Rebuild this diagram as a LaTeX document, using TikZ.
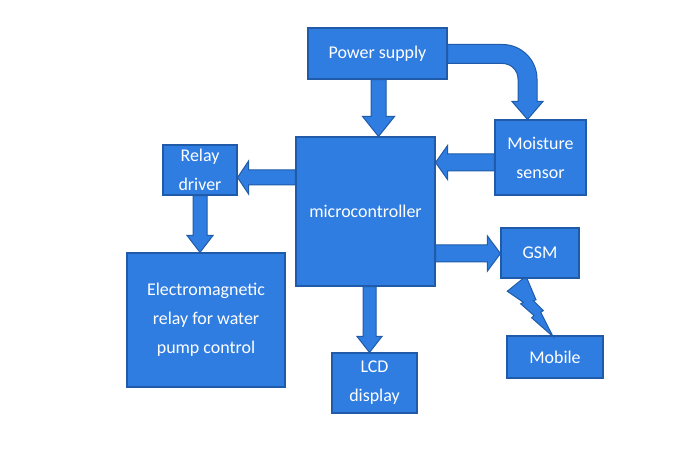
\documentclass[tikz,border=0pt]{standalone}
\usepackage{fontspec}
\setmainfont{Carlito}
\usetikzlibrary{calc}
\definecolor{boxfill}{HTML}{2F7DE1}
\definecolor{boxline}{HTML}{1F5BA8}
\tikzset{
  blk/.style={draw=boxline, fill=boxfill, line width=1.1bp, inner sep=0pt,
    text=white, align=center, font=\fontsize{18}{29}\selectfont},
  fat/.style={draw=boxline, fill=boxfill, line width=1bp, line join=miter}
}
% down arrow: #1 start, #2 end, #3 shaft half, #4 head half, #5 head length
\newcommand\fatdown[5]{\filldraw[fat] ($#1+(-#3,0)$) -- ($#1+(#3,0)$) -- ($#2+(#3,-#5)$) -- ($#2+(#4,-#5)$) -- #2 -- ($#2+(-#4,-#5)$) -- ($#2+(-#3,-#5)$) -- cycle;}
% left arrow (end left of start)
\newcommand\fatleft[5]{\filldraw[fat] ($#1+(0,-#3)$) -- ($#1+(0,#3)$) -- ($#2+(#5,#3)$) -- ($#2+(#5,#4)$) -- #2 -- ($#2+(#5,-#4)$) -- ($#2+(#5,-#3)$) -- cycle;}
% right arrow
\newcommand\fatright[5]{\filldraw[fat] ($#1+(0,-#3)$) -- ($#1+(0,#3)$) -- ($#2+(-#5,#3)$) -- ($#2+(-#5,#4)$) -- #2 -- ($#2+(-#5,-#4)$) -- ($#2+(-#5,-#3)$) -- cycle;}
\begin{document}
\begin{tikzpicture}[x=1bp,y=-1bp]
\useasboundingbox[fill=white] (0,0) rectangle (700,471);
% nodes
\node[blk, minimum width=139bp, minimum height=51bp] (ps) at (377.5,53.5) {Power supply};
\node[blk, minimum width=91bp, minimum height=75bp] (ms) at (540.5,157.5) {Moisture\\sensor};
\node[blk, minimum width=139bp, minimum height=149bp] (mc) at (365.5,211.5) {microcontroller};
\node[blk, minimum width=74bp, minimum height=50bp] (rd) at (200,170) {Relay\\driver};
\node[blk, minimum width=158bp, minimum height=134bp] (em) at (206,320) {Electromagnetic\\relay for water\\pump control};
\node[blk, minimum width=85bp, minimum height=60bp] (lcd) at (374.5,383) {LCD\\display};
\node[blk, minimum width=78bp, minimum height=50bp] (gsm) at (540,253) {GSM};
\node[blk, minimum width=96bp, minimum height=42bp] (mob) at (555,357) {Mobile};
% straight block arrows
\coordinate (a1s) at ($(ps.south)+(1,0)$);
\fatdown{(a1s)}{(a1s |- mc.north)}{7.5}{16}{20}
\coordinate (a2s) at ($(ms.west)+(0,5)$);
\fatleft{(a2s)}{(a2s -| mc.east)}{8.5}{17}{12}
\coordinate (a3s) at ($(mc.west |- rd.east)+(0,7.5)$);
\fatleft{(a3s)}{(a3s -| rd.east)}{7.5}{16.5}{11}
\fatdown{(rd.south)}{(rd.south |- em.north)}{7}{13}{17}
\coordinate (a5e) at ($(lcd.north)+(-5,0)$);
\fatdown{(a5e |- mc.south)}{(a5e)}{6.5}{12.5}{16}
\coordinate (a6e) at ($(gsm.west)+(0,0.5)$);
\fatright{(a6e -| mc.east)}{(a6e)}{8.5}{17.5}{13}
% curved block arrow power supply -> moisture sensor
\coordinate (c0) at ($(ps.east)+(0,0.5)$);
\coordinate (ct) at (c0 -| {$(ms.north)+(-13,0)$});
\coordinate (ce) at (ct |- ms.north);
\filldraw[fat] ($(c0)+(0,-9.5)$) -- ($(ct)+(-25,-9.5)$)
  .. controls ($(ct)+(-6,-9.5)$) and ($(ct)+(9.5,6)$) .. ($(ct)+(9.5,25)$)
  -- ($(ce)+(9.5,-18)$) -- ($(ce)+(15.5,-18)$) -- (ce) -- ($(ce)+(-15.5,-18)$)
  -- ($(ce)+(-9.5,-18)$) -- ($(ct)+(-9.5,25)$)
  .. controls ($(ct)+(-9.5,16.4)$) and ($(ct)+(-16.4,9.5)$) .. ($(ct)+(-25,9.5)$)
  -- ($(c0)+(0,9.5)$) -- cycle;
% lightning bolt GSM -> Mobile
\filldraw[fat, shift={(gsm.south)}] (-17,0) -- (-13,0) -- (-4,21.3) -- (-6.7,22) -- (3.3,32)
  -- (0.7,33.7) -- (13,58) -- (-8.3,39.3) -- (-6,37) -- (-19.3,25.3) -- (-16.7,23.7)
  -- (-32.7,12.7) -- cycle;
\end{tikzpicture}
\end{document}
